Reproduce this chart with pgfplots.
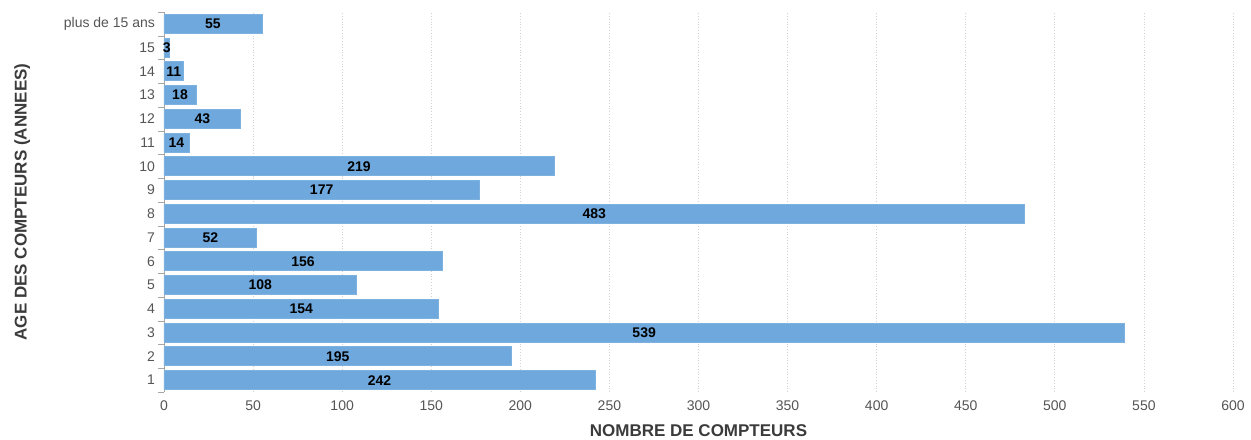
\documentclass[border=0pt]{standalone}
\usepackage{pgfplots}
\pgfplotsset{compat=1.18}
\usepackage{pgfplotstable}
\usepackage{fontspec}
\setmainfont{Liberation Sans}
\definecolor{barblue}{HTML}{6FA8DC}
\definecolor{ticktext}{HTML}{555555}
\definecolor{gridgray}{HTML}{D0D0D0}
\pgfplotstableread{
y v
0 242
1 195
2 539
3 154
4 108
5 156
6 52
7 483
8 177
9 219
10 14
11 43
12 18
13 11
14 3
15 55
}\datatable
\begin{document}
\begin{tikzpicture}
\useasboundingbox (-82pt,-23.5pt) rectangle (543.5pt,196pt);
\begin{axis}[
  at={(0,0)}, anchor=south west,
  scale only axis,
  width=534.5pt, height=190pt,
  xmin=0, xmax=600, ymin=-0.5, ymax=15.5,
  xtick={0,50,...,600},
  ytick={0,...,15},
  yticklabels={1,2,3,4,5,6,7,8,9,10,11,12,13,14,15,plus de 15 ans},
  minor ytick={-0.5,0.5,...,15.5},
  tick style={draw=gray!70},
  major tick length=0pt,
  minor tick length=3pt,
  ytick pos=left, xtick pos=bottom,
  tick align=outside,
  axis x line*=bottom,
  axis y line*=left,
  x axis line style={draw=none},
  y axis line style={draw=gray!70},
  xmajorgrids,
  grid style={gridgray, densely dotted},
  tick label style={font=\fontsize{7}{8}\selectfont, text=ticktext},
  xticklabel style={yshift=-1pt},
  yticklabel style={xshift=-1pt},
  xlabel={\textbf{NOMBRE DE COMPTEURS}},
  ylabel={\textbf{AGE DES COMPTEURS (ANNEES)}},
  label style={font=\fontsize{8.5}{10}\selectfont, text=ticktext!70!black},
  xlabel style={yshift=0pt},
  ylabel style={yshift=10pt},
  /pgf/number format/assume math mode=true,
]
\addplot[xbar, bar width=9.5pt, fill=barblue, draw=barblue!90!white, bar shift=0pt]
  table[x=v, y=y] {\datatable};
\addplot[draw=none, mark=none, only marks,
  nodes near coords, point meta=explicit,
  every node near coord/.append style={anchor=center, font=\fontsize{7}{8}\selectfont\bfseries, text=black, inner sep=0pt}]
  table[x expr=\thisrow{v}/2, y=y, meta=v] {\datatable};
\end{axis}
\end{tikzpicture}
\end{document}
